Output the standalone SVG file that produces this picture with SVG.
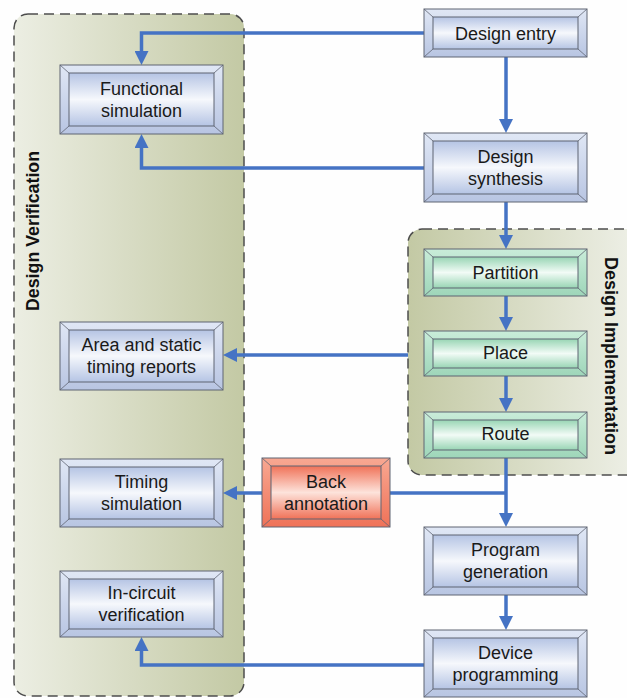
<svg xmlns="http://www.w3.org/2000/svg" width="627" height="698" viewBox="0 0 627 698">
  <defs>
    <linearGradient id="verifFill" x1="0" y1="0" x2="1" y2="0">
      <stop offset="0" stop-color="#eceee3"/>
      <stop offset="1" stop-color="#c3c9a4"/>
    </linearGradient>
    <linearGradient id="implFill" gradientUnits="userSpaceOnUse" x1="408" y1="0" x2="627" y2="0">
      <stop offset="0" stop-color="#c3c9a4"/>
      <stop offset="1" stop-color="#eceee4"/>
    </linearGradient>
    <!-- bevel frame gradients: lighter top face, darker bottom face -->
    <linearGradient id="frameBlue" x1="0" y1="0" x2="0" y2="1">
      <stop offset="0" stop-color="#e0e7f5"/>
      <stop offset="1" stop-color="#b8c5e2"/>
    </linearGradient>
    <linearGradient id="faceBlue" x1="0" y1="0" x2="0" y2="1">
      <stop offset="0" stop-color="#b5c4e4"/>
      <stop offset="0.5" stop-color="#f6f8fc"/>
      <stop offset="1" stop-color="#b5c4e4"/>
    </linearGradient>
    <linearGradient id="frameGreen" x1="0" y1="0" x2="0" y2="1">
      <stop offset="0" stop-color="#c9ecd9"/>
      <stop offset="1" stop-color="#9ed6b9"/>
    </linearGradient>
    <linearGradient id="faceGreen" x1="0" y1="0" x2="0" y2="1">
      <stop offset="0" stop-color="#98d5b4"/>
      <stop offset="0.5" stop-color="#f2fbf6"/>
      <stop offset="1" stop-color="#98d5b4"/>
    </linearGradient>
    <linearGradient id="frameRed" x1="0" y1="0" x2="0" y2="1">
      <stop offset="0" stop-color="#f8a892"/>
      <stop offset="1" stop-color="#ef7258"/>
    </linearGradient>
    <linearGradient id="faceRed" x1="0" y1="0" x2="0" y2="1">
      <stop offset="0" stop-color="#f07258"/>
      <stop offset="0.5" stop-color="#fde3db"/>
      <stop offset="1" stop-color="#f07258"/>
    </linearGradient>
    <marker id="arrow" viewBox="0 0 14 14" refX="1" refY="7" markerWidth="14" markerHeight="14" markerUnits="userSpaceOnUse" orient="auto">
      <path d="M0,0 L14,7 L0,14 z" fill="#4573c4"/>
    </marker>
  </defs>
  <style>
    .group-box { stroke: #4d4d4d; stroke-width: 1.5; stroke-dasharray: 10 6; }
    .group-label { font-family: "Liberation Sans", Arial, sans-serif; font-weight: bold; fill: #111; text-anchor: middle; }
    .frame { stroke: #5f6472; stroke-width: 1; }
    .bevel { stroke: #5f6472; stroke-width: 0.8; fill: none; }
    .label { font-family: "Liberation Sans", Arial, sans-serif; font-size: 18px; fill: #1a1a1a; text-anchor: middle; }
    .blue .frame-out { fill: url(#frameBlue); }
    .blue .frame-in { fill: url(#faceBlue); }
    .green .frame-out { fill: url(#frameGreen); }
    .green .frame-in { fill: url(#faceGreen); }
    .red .frame-out { fill: url(#frameRed); }
    .red .frame-in { fill: url(#faceRed); }
    .link { fill: none; stroke: #4573c4; stroke-width: 3.5; }
    .link-arrow { marker-end: url(#arrow); }
  </style>

  <rect width="627" height="698" fill="#fefefe"/>

  <!-- swimlane containers -->
  <g id="design-verification">
    <rect class="group-box" x="14" y="14" width="230" height="682" rx="14" fill="url(#verifFill)"/>
    <text class="group-label" font-size="17.8" transform="translate(39,231) rotate(-90)">Design Verification</text>
  </g>
  <g id="design-implementation">
    <rect class="group-box" x="408" y="229" width="240" height="246" rx="14" fill="url(#implFill)"/>
    <text class="group-label" font-size="18" transform="translate(605,356) rotate(90)">Design Implementation</text>
  </g>

  <!-- connectors -->
  <g id="connectors">
    <path class="link link-arrow" d="M424,33 H141.5 V52"/>
    <path class="link link-arrow" d="M506,57 V120"/>
    <path class="link link-arrow" d="M424,168 H141.5 V147"/>
    <path class="link link-arrow" d="M506,202 V236"/>
    <path class="link link-arrow" d="M506,296 V318"/>
    <path class="link link-arrow" d="M506,376 V399"/>
    <path class="link link-arrow" d="M408,355 H236"/>
    <path class="link link-arrow" d="M506,458 V514"/>
    <path class="link" d="M390,493 H506"/>
    <path class="link link-arrow" d="M262,493 H236"/>
    <path class="link link-arrow" d="M506,595 V617"/>
    <path class="link link-arrow" d="M424,665 H141.5 V650"/>
  </g>

  <!-- process steps -->
  <g id="design-entry" class="blue">
    <rect class="frame frame-out" x="424" y="9" width="163" height="48"/>
    <rect class="frame frame-in" x="433" y="17" width="145" height="32"/>
    <path class="bevel" d="M424,9 L433,17 M587,9 L578,17 M424,57 L433,49 M587,57 L578,49"/>
    <text class="label" x="505.5" y="39.5">Design entry</text>
  </g>
  <g id="design-synthesis" class="blue">
    <rect class="frame frame-out" x="424" y="133" width="163" height="69"/>
    <rect class="frame frame-in" x="433" y="141" width="145" height="53"/>
    <path class="bevel" d="M424,133 L433,141 M587,133 L578,141 M424,202 L433,194 M587,202 L578,194"/>
    <text class="label" x="505.5" y="162.5">Design</text>
    <text class="label" x="505.5" y="184.5">synthesis</text>
  </g>
  <g id="functional-simulation" class="blue">
    <rect class="frame frame-out" x="60" y="65" width="163" height="69"/>
    <rect class="frame frame-in" x="69" y="73" width="145" height="53"/>
    <path class="bevel" d="M60,65 L69,73 M223,65 L214,73 M60,134 L69,126 M223,134 L214,126"/>
    <text class="label" x="141.5" y="95">Functional</text>
    <text class="label" x="141.5" y="117">simulation</text>
  </g>
  <g id="area-timing-reports" class="blue">
    <rect class="frame frame-out" x="60" y="322" width="163" height="68"/>
    <rect class="frame frame-in" x="69" y="330" width="145" height="52"/>
    <path class="bevel" d="M60,322 L69,330 M223,322 L214,330 M60,390 L69,382 M223,390 L214,382"/>
    <text class="label" x="141.5" y="350.5">Area and static</text>
    <text class="label" x="141.5" y="372.5">timing reports</text>
  </g>
  <g id="timing-simulation" class="blue">
    <rect class="frame frame-out" x="60" y="459" width="163" height="68"/>
    <rect class="frame frame-in" x="69" y="467" width="145" height="52"/>
    <path class="bevel" d="M60,459 L69,467 M223,459 L214,467 M60,527 L69,519 M223,527 L214,519"/>
    <text class="label" x="141.5" y="487.5">Timing</text>
    <text class="label" x="141.5" y="509.5">simulation</text>
  </g>
  <g id="in-circuit-verification" class="blue">
    <rect class="frame frame-out" x="60" y="571" width="163" height="66"/>
    <rect class="frame frame-in" x="69" y="579" width="145" height="50"/>
    <path class="bevel" d="M60,571 L69,579 M223,571 L214,579 M60,637 L69,629 M223,637 L214,629"/>
    <text class="label" x="141.5" y="599">In-circuit</text>
    <text class="label" x="141.5" y="621">verification</text>
  </g>
  <g id="partition" class="green">
    <rect class="frame frame-out" x="424" y="249" width="163" height="47"/>
    <rect class="frame frame-in" x="433" y="257" width="145" height="31"/>
    <path class="bevel" d="M424,249 L433,257 M587,249 L578,257 M424,296 L433,288 M587,296 L578,288"/>
    <text class="label" x="505.5" y="278.5">Partition</text>
  </g>
  <g id="place" class="green">
    <rect class="frame frame-out" x="424" y="331" width="163" height="45"/>
    <rect class="frame frame-in" x="433" y="339" width="145" height="29"/>
    <path class="bevel" d="M424,331 L433,339 M587,331 L578,339 M424,376 L433,368 M587,376 L578,368"/>
    <text class="label" x="505.5" y="359">Place</text>
  </g>
  <g id="route" class="green">
    <rect class="frame frame-out" x="424" y="412" width="163" height="46"/>
    <rect class="frame frame-in" x="433" y="420" width="145" height="30"/>
    <path class="bevel" d="M424,412 L433,420 M587,412 L578,420 M424,458 L433,450 M587,458 L578,450"/>
    <text class="label" x="505.5" y="440">Route</text>
  </g>
  <g id="back-annotation" class="red">
    <rect class="frame frame-out" x="262" y="458" width="128" height="69"/>
    <rect class="frame frame-in" x="271" y="466" width="110" height="53"/>
    <path class="bevel" d="M262,458 L271,466 M390,458 L381,466 M262,527 L271,519 M390,527 L381,519"/>
    <text class="label" x="326" y="487.5">Back</text>
    <text class="label" x="326" y="509.5">annotation</text>
  </g>
  <g id="program-generation" class="blue">
    <rect class="frame frame-out" x="424" y="527" width="163" height="68"/>
    <rect class="frame frame-in" x="433" y="535" width="145" height="52"/>
    <path class="bevel" d="M424,527 L433,535 M587,527 L578,535 M424,595 L433,587 M587,595 L578,587"/>
    <text class="label" x="505.5" y="555.5">Program</text>
    <text class="label" x="505.5" y="577.5">generation</text>
  </g>
  <g id="device-programming" class="blue">
    <rect class="frame frame-out" x="424" y="630" width="163" height="67"/>
    <rect class="frame frame-in" x="433" y="638" width="145" height="51"/>
    <path class="bevel" d="M424,630 L433,638 M587,630 L578,638 M424,697 L433,689 M587,697 L578,689"/>
    <text class="label" x="505.5" y="658.5">Device</text>
    <text class="label" x="505.5" y="680.5">programming</text>
  </g>
</svg>
